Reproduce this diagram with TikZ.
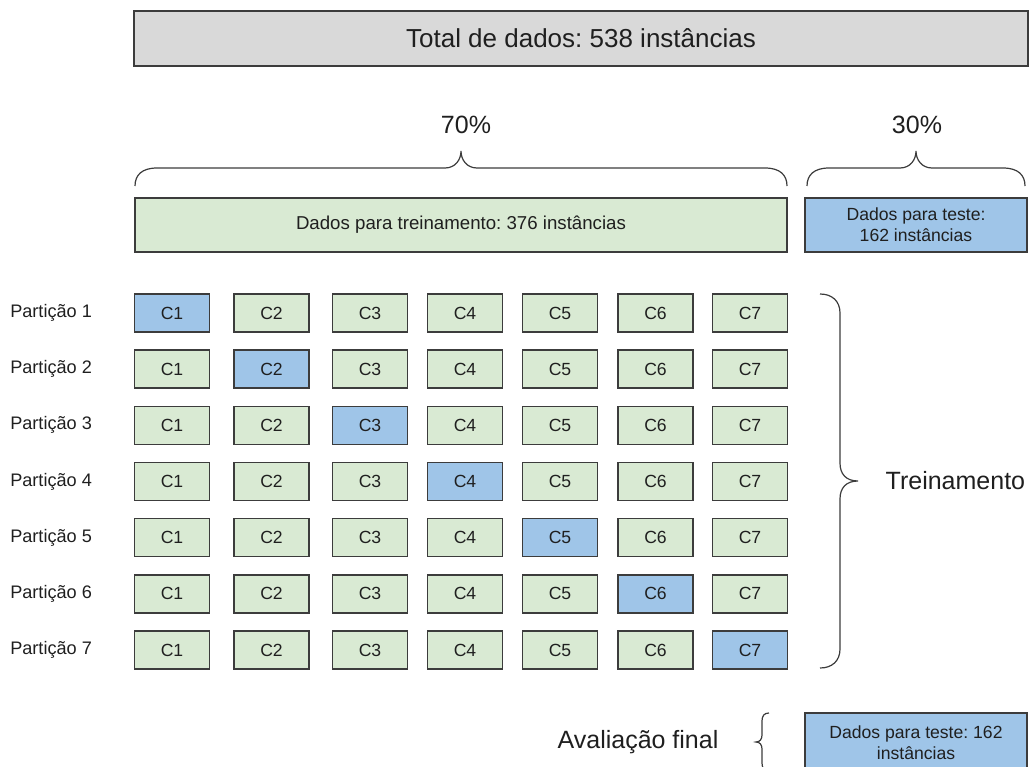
\documentclass[tikz,border=0pt]{standalone}
\usepackage{fontspec}
\setmainfont{Liberation Sans}
\definecolor{boxgray}{HTML}{D9D9D9}
\definecolor{edge}{HTML}{3C3C3C}
\definecolor{traingreen}{HTML}{D9EAD3}
\definecolor{testblue}{HTML}{9FC5E8}
\definecolor{ink}{HTML}{1F1F1F}
\frenchspacing
\begin{document}
\begin{tikzpicture}[x=0.75pt,y=-0.75pt,
  box/.style={draw=edge, line width=1.1pt, inner sep=0pt, text=ink},
  bigtext/.style={font=\fontsize{18.75}{22}\selectfont, text=ink},
  midtext/.style={font=\fontsize{13.2}{15.75}\selectfont, align=center},
  celltext/.style={font=\fontsize{13.2}{15}\selectfont},
  labeltext/.style={font=\fontsize{13.6}{15}\selectfont, text=ink, inner sep=0pt},
  cell/.style={box, celltext, minimum width=56pt, minimum height=28.5pt},
  bracepath/.style={draw=edge, line width=0.9pt}
]
\path[use as bounding box] (0,0) rectangle (1029,767);
\clip (0,0) rectangle (1029,767);

% overall data set
\node[box, fill=boxgray, minimum width=670.5pt, minimum height=41.25pt,
      font=\fontsize{19.5}{22}\selectfont] (total) at (581,38.5)
      {Total de dados: 538 instâncias};

% split into training and test sets
\node[bigtext] (p70) at (466,125) {70\%};
\node[bigtext] (p30) at (917,125) {30\%};
\node[box, fill=traingreen, midtext, font=\fontsize{14}{16}\selectfont,
      minimum width=489pt, minimum height=40.5pt]
      (train) at (461,225) {Dados para treinamento: 376 instâncias};
\node[box, fill=testblue, midtext, minimum width=166.5pt, minimum height=40.5pt]
      (test) at (916,225) {Dados para teste:\\162 instâncias};

% braces over the two sets
\draw[bracepath] (135,186) .. controls (135,175) and (142,168) .. (157,168)
  -- (445,168) .. controls (455,168) and (461,160) .. (461,151)
  .. controls (461,160) and (467,168) .. (477,168)
  -- (765,168) .. controls (780,168) and (787,175) .. (787,186);
\draw[bracepath] (807,186) .. controls (807,175) and (814,168) .. (829,168)
  -- (900,168) .. controls (910,168) and (916,160) .. (916,151)
  .. controls (916,160) and (922,168) .. (932,168)
  -- (1003,168) .. controls (1018,168) and (1025,175) .. (1025,186);

% cross-validation partitions
\foreach \r in {1,...,7} {
  \pgfmathsetmacro{\ry}{313+(\r-1)*56.17}
  \node[labeltext, anchor=west] (part\r) at (10,\ry) {Partição \r};
  \foreach \k/\cx in {1/172, 2/271.5, 3/370, 4/465, 5/560, 6/655.5, 7/750} {
    \ifnum\k=\r\relax \def\cellfill{testblue}\else\def\cellfill{traingreen}\fi
    \node[cell, fill=\cellfill] (c\r-\k) at (\cx,\ry) {C\k};
  }
}

% training brace
\draw[bracepath] (820,294) .. controls (832,294) and (840,301) .. (840,313)
  -- (840,463) .. controls (840,474) and (846,481) .. (858,481)
  .. controls (846,481) and (840,488) .. (840,499)
  -- (840,649) .. controls (840,661) and (832,668) .. (820,668);
\node[bigtext, anchor=west] (trein) at (881,481) {Treinamento};

% final evaluation
\node[bigtext] (aval) at (638,742) {Avaliação final};
\draw[bracepath] (769,713) .. controls (764,713) and (762,716) .. (762,721)
  -- (762,735) .. controls (762,739) and (760,742) .. (756,742)
  .. controls (760,742) and (762,745) .. (762,749)
  -- (762,763) .. controls (762,768) and (764,771) .. (769,771);
\node[box, fill=testblue, midtext, minimum width=166.5pt, minimum height=44pt]
      (final) at (916,742.5) {Dados para teste: 162\\instâncias};
\end{tikzpicture}
\end{document}
